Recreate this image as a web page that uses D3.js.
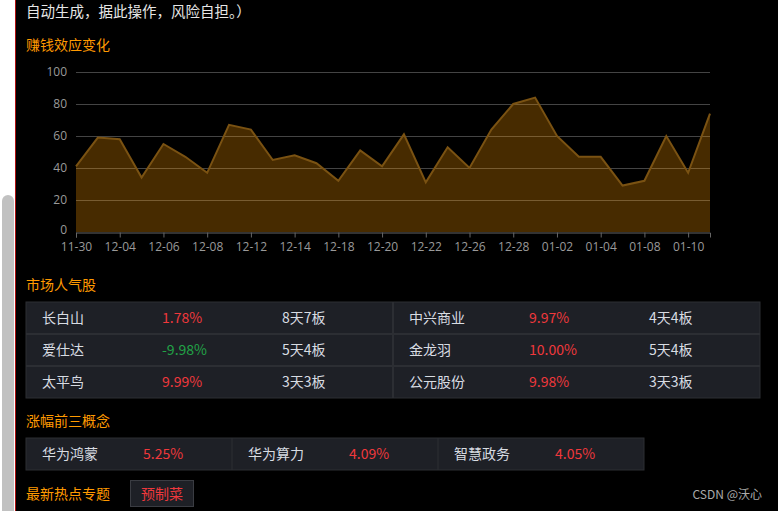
<!DOCTYPE html>
<html><head><meta charset="utf-8">
<script src="https://cdn.jsdelivr.net/npm/d3@7"></script>
<style>
html,body{margin:0;padding:0;background:#000;overflow:hidden;}
svg{display:block;font-family:"Noto Sans CJK SC","Microsoft YaHei",sans-serif;}
</style></head>
<body>
<div id="chart"></div>
<script>
const categories = ["11-30","12-01","12-04","12-05","12-06","12-07","12-08","12-11","12-12","12-13","12-14","12-15","12-18","12-19","12-20","12-21","12-22","12-25","12-26","12-27","12-28","12-29","01-02","01-03","01-04","01-05","01-08","01-09","01-10","01-11"];
const values = [41,59,58,34,55,47,37,67,64,45,48,43,32,51,41,61,31,53,40,64,80,84,60,47,47,29,32,60,37,74];
const yTicks = [0,20,40,60,80,100];

const stockNames = ["长白山","爱仕达","太平鸟","中兴商业","金龙羽","公元股份"];
const stockChanges = [1.78,-9.98,9.99,9.97,10.00,9.98];
const stockBoards = ["8天7板","5天4板","3天3板","4天4板","5天4板","3天3板"];

const conceptNames = ["华为鸿蒙","华为算力","智慧政务"];
const conceptChanges = [5.25,4.09,4.05];

const hotTopics = ["预制菜"];

const W = 778, H = 511;
const svg = d3.select("#chart").append("svg").attr("width", W).attr("height", H);
svg.append("rect").attr("width", W).attr("height", H).attr("fill", "#000");

// left browser strip & scrollbar
svg.append("rect").attr("x",0).attr("y",0).attr("width",15).attr("height",H).attr("fill","#fff");
svg.append("rect").attr("x",2).attr("y",195).attr("width",12).attr("height",H-195+10).attr("rx",6).attr("fill","#c1c1c1");
svg.append("rect").attr("x",15).attr("y",0).attr("width",1).attr("height",H).attr("fill","#b01010");

const orange = "#ff9a00";
const txt = "#d8dce2";
const red = "#f0383c";
const green = "#22a347";

svg.append("text").attr("x",26).attr("y",17).attr("fill","#e6e6e6").attr("font-size",14.5).text("自动生成，据此操作，风险自担。）");

function title(y, s){
  svg.append("text").attr("x",26).attr("y",y).attr("fill",orange).attr("font-size",14).text(s);
}
title(50,"赚钱效应变化");

// chart
const m = {l:76, r:710, t:72, b:232};
const x = d3.scalePoint().domain(categories).range([m.l, m.r]);
const y = d3.scaleLinear().domain([0,100]).range([m.b, m.t]);

const g = svg.append("g");
g.selectAll("line.grid").data(yTicks.filter(d=>d>0)).join("line")
  .attr("x1",m.l).attr("x2",m.r).attr("y1",d=>y(d)+0.5).attr("y2",d=>y(d)+0.5)
  .attr("stroke","#444").attr("stroke-width",1);

const area = d3.area().x(d=>x(d.c)).y0(y(0)).y1(d=>y(d.v));
const line = d3.line().x(d=>x(d.c)).y(d=>y(d.v));
const data = categories.map((c,i)=>({c, v:values[i]}));
g.append("path").datum(data).attr("d",area).attr("fill","rgba(255,153,0,0.28)");
g.append("path").datum(data).attr("d",line).attr("fill","none").attr("stroke","#7a5212").attr("stroke-width",2);

const yAxis = g.append("g").attr("transform",`translate(${m.l},0)`)
  .call(d3.axisLeft(y).tickValues(yTicks).tickSize(0).tickPadding(9));
yAxis.select(".domain").remove();
yAxis.selectAll("text").attr("fill","#9a9a9a").attr("font-size",12).attr("font-family","'Open Sans','Noto Sans',sans-serif");
// lift the "0" label slightly so it stays clear of the first x label
yAxis.selectAll(".tick").filter(d=>d===0).select("text").attr("dy","0.15em");

const xAxis = g.append("g").attr("transform",`translate(0,${m.b+0.5})`)
  .call(d3.axisBottom(x).tickValues(categories.filter((d,i)=>i%2===0)).tickSize(5).tickPadding(5));
xAxis.select(".domain").attr("stroke","#666");
xAxis.selectAll(".tick line").attr("stroke","#666");
xAxis.selectAll("text").attr("fill","#9a9a9a").attr("font-size",12).attr("font-family","'Open Sans','Noto Sans',sans-serif");

// 市场人气股
title(290,"市场人气股");
const tX = 26, tY = 302, rowH = 32, halfW = 367, colW = 120;
const cellBg = "#1e2026", border = "#2c2e33";
svg.append("rect").attr("x",tX).attr("y",tY).attr("width",halfW*2).attr("height",rowH*3).attr("fill",cellBg).attr("stroke",border).attr("stroke-width",1);
for(let r=1;r<3;r++){
  svg.append("rect").attr("x",tX).attr("y",tY+r*rowH-1).attr("width",halfW*2).attr("height",2).attr("fill",border);
}
svg.append("rect").attr("x",tX+halfW-1).attr("y",tY).attr("width",2).attr("height",rowH*3).attr("fill",border);
stockNames.forEach((n,i)=>{
  const half = Math.floor(i/3), r = i%3;
  const bx = tX + half*halfW + 16, by = tY + r*rowH + 21;
  svg.append("text").attr("x",bx).attr("y",by).attr("fill",txt).attr("font-size",14).text(n);
  const ch = stockChanges[i];
  svg.append("text").attr("x",bx+colW).attr("y",by).attr("fill",ch<0?green:red).attr("font-size",14).text(ch.toFixed(2)+"%");
  svg.append("text").attr("x",bx+colW*2).attr("y",by).attr("fill",txt).attr("font-size",14).text(stockBoards[i]);
});

// 涨幅前三概念
title(426,"涨幅前三概念");
const cY = 438, cW = 206, cH = 32;
svg.append("rect").attr("x",tX).attr("y",cY).attr("width",cW*3).attr("height",cH).attr("fill",cellBg).attr("stroke",border).attr("stroke-width",1);
for(let i=1;i<3;i++){
  svg.append("rect").attr("x",tX+i*cW-0.5).attr("y",cY).attr("width",1).attr("height",cH).attr("fill",border);
}
conceptNames.forEach((n,i)=>{
  const bx = tX + i*cW + 16, by = cY + 21;
  svg.append("text").attr("x",bx).attr("y",by).attr("fill",txt).attr("font-size",14).text(n);
  svg.append("text").attr("x",bx+101).attr("y",by).attr("fill",red).attr("font-size",14).text(conceptChanges[i].toFixed(2)+"%");
});

// 最新热点专题
title(499,"最新热点专题");
hotTopics.forEach((t,i)=>{
  svg.append("rect").attr("x",130.5).attr("y",480.5).attr("width",63).attr("height",26).attr("fill",cellBg).attr("stroke","#3a3c42");
  svg.append("text").attr("x",162).attr("y",499).attr("text-anchor","middle").attr("fill",red).attr("font-size",14).text(t);
});

svg.append("text").attr("x",762).attr("y",499).attr("text-anchor","end").attr("fill","#aaaaaa").attr("font-size",12).text("CSDN @沃心");
</script>
</body></html>
